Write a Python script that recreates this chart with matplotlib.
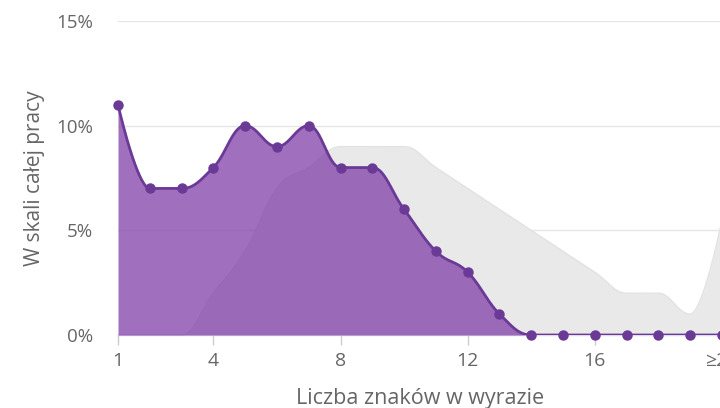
import numpy as np
import matplotlib
matplotlib.use("Agg")
import matplotlib.pyplot as plt

categories = list(range(1, 21))
tick_positions = [1, 4, 8, 12, 16, 20]
tick_labels = ["1", "4", "8", "12", "16", "≥20"]
purple_values = [11, 7, 7, 8, 10, 9, 10, 8, 8, 6, 4, 3, 1, 0, 0, 0, 0, 0, 0, 0]
gray_values = [0, 0, 0, 2, 4, 7, 8, 9, 9, 9, 8, 7, 6, 5, 4, 3, 2, 2, 1, 5.5]
y_ticks = [0, 5, 10, 15]
y_tick_labels = ["0%", "5%", "10%", "15%"]


def hc_spline(xs, ys, n=40):
    """Highcharts-style spline smoothing (cubic Bezier segments)."""
    xs = np.asarray(xs, float)
    ys = np.asarray(ys, float)
    N = len(xs)
    lcx = xs.copy(); lcy = ys.copy(); rcx = xs.copy(); rcy = ys.copy()
    s = 1.5
    d = s + 1
    for i in range(1, N - 1):
        px, py = xs[i], ys[i]
        lx, ly = xs[i - 1], ys[i - 1]
        nx, ny = xs[i + 1], ys[i + 1]
        lcx_ = (s * px + lx) / d
        lcy_ = (s * py + ly) / d
        rcx_ = (s * px + nx) / d
        rcy_ = (s * py + ny) / d
        corr = 0.0
        if rcx_ != lcx_:
            corr = ((rcy_ - lcy_) * (rcx_ - px)) / (rcx_ - lcx_) + py - rcy_
        lcy_ += corr
        rcy_ += corr
        if lcy_ > ly and lcy_ > py:
            lcy_ = max(ly, py); rcy_ = 2 * py - lcy_
        elif lcy_ < ly and lcy_ < py:
            lcy_ = min(ly, py); rcy_ = 2 * py - lcy_
        if rcy_ > ny and rcy_ > py:
            rcy_ = max(ny, py); lcy_ = 2 * py - rcy_
        elif rcy_ < ny and rcy_ < py:
            rcy_ = min(ny, py); lcy_ = 2 * py - rcy_
        lcx[i], lcy[i], rcx[i], rcy[i] = lcx_, lcy_, rcx_, rcy_
    t = np.linspace(0, 1, n)[:, None]
    outx, outy = [xs[0]], [ys[0]]
    for i in range(1, N):
        P0 = np.array([xs[i - 1], ys[i - 1]])
        P1 = np.array([rcx[i - 1], rcy[i - 1]])
        P2 = np.array([lcx[i], lcy[i]])
        P3 = np.array([xs[i], ys[i]])
        B = ((1 - t) ** 3) * P0 + 3 * ((1 - t) ** 2) * t * P1 + 3 * (1 - t) * t ** 2 * P2 + t ** 3 * P3
        outx.extend(B[1:, 0]); outy.extend(B[1:, 1])
    return np.array(outx), np.array(outy)


plt.rcParams['font.family'] = ['Open Sans', 'DejaVu Sans']
fig = plt.figure(figsize=(7.2, 4.08), dpi=100)
ax = fig.add_axes([118 / 720, 1 - 335 / 408, (722 - 118) / 720, (335 - 21) / 408])

gx, gy = hc_spline(categories, gray_values)
ax.fill_between(gx, 0, gy, color="#e9e9e9", lw=0, zorder=2)
ax.plot(gx, gy, color="#e2e2e2", lw=1, zorder=2)

px, py = hc_spline(categories, purple_values)
ax.fill_between(px, 0, py, color="#7d3ba7", alpha=0.73, lw=0, zorder=3)
ax.plot(px, py, color="#6a3a96", lw=2, zorder=4, solid_capstyle="round")
ax.plot(categories, purple_values, "o", color="#6a3a96", ms=6.5, zorder=5, clip_on=False)

ax.set_xlim(1, 20)
ax.set_ylim(0, 15)
ax.set_yticks(y_ticks)
ax.set_yticklabels(y_tick_labels)
ax.set_xticks(tick_positions)
ax.set_xticklabels(tick_labels)
ax.grid(axis="y", color="#e6e6e6", lw=1, zorder=0)
ax.set_axisbelow(True)
for sp in ["top", "right", "left"]:
    ax.spines[sp].set_visible(False)
ax.spines["bottom"].set_color("#d8cce6")
ax.spines["bottom"].set_linewidth(1)
ax.spines["bottom"].set_zorder(1)
ax.tick_params(axis="y", length=0, pad=18, labelsize=13.5, labelcolor="#666666")
ax.tick_params(axis="x", length=7, width=1, color="#cccccc", pad=5, labelsize=14, labelcolor="#666666")
ax.set_ylabel("W skali całej pracy", fontsize=15, color="#666666", labelpad=8)
ax.set_xlabel("Liczba znaków w wyrazie", fontsize=15.5, color="#666666", labelpad=13)

fig.savefig("out.png", dpi=100)
